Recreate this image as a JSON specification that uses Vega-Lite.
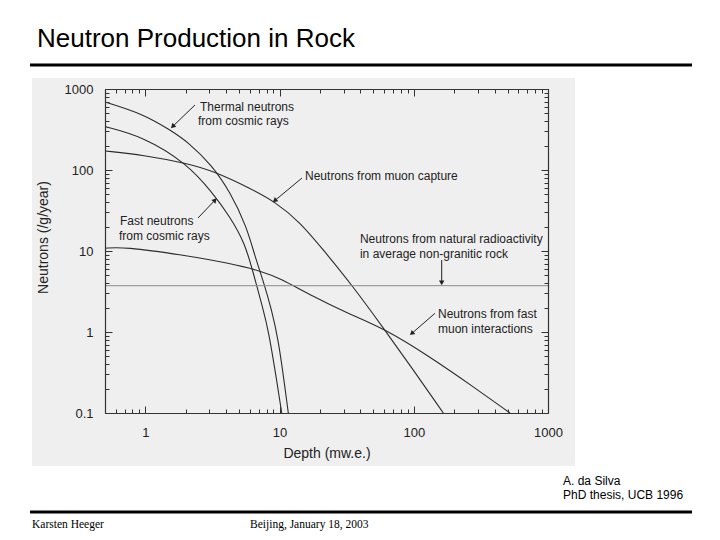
{
"$schema":"https://vega.github.io/schema/vega-lite/v6.json",
"width":443,"height":324,
"autosize":{"type":"none"},
"padding":{"left":105,"top":89,"right":172,"bottom":127},
"background":"#ffffff",
"config":{"view":{"stroke":null},"font":"Liberation Sans"},
"title":{"text":"Neutron Production in Rock","anchor":"start","frame":"group","dx":-68,"dy":24,"offset":15,"fontSize":26,"fontWeight":"normal","font":"Liberation Sans","color":"#000000","baseline":"alphabetic"},
"datasets":{"curves":[
{"series":"thermal","d":0.5,"v":691},{"series":"thermal","d":0.965,"v":491},{"series":"thermal","d":1.525,"v":312},{"series":"thermal","d":2.077,"v":222},{"series":"thermal","d":3.12,"v":115},{"series":"thermal","d":4.27,"v":54},{"series":"thermal","d":5.69,"v":19.95},{"series":"thermal","d":6.56,"v":8.5},{"series":"thermal","d":7.52,"v":4.39},{"series":"thermal","d":8.73,"v":1.87},{"series":"thermal","d":9.78,"v":0.796},{"series":"thermal","d":10.78,"v":0.255},{"series":"thermal","d":11.61,"v":0.1},
{"series":"fast","d":0.5,"v":343},{"series":"fast","d":0.965,"v":258},{"series":"fast","d":2.03,"v":121},{"series":"fast","d":3.12,"v":54},{"series":"fast","d":4.27,"v":26.5},{"series":"fast","d":5.52,"v":12.4},{"series":"fast","d":6.28,"v":5.82},{"series":"fast","d":7.56,"v":1.87},{"series":"fast","d":8.24,"v":1.06},{"series":"fast","d":9.51,"v":0.255},{"series":"fast","d":10.37,"v":0.1},
{"series":"muoncapture","d":0.5,"v":172},{"series":"muoncapture","d":0.965,"v":153},{"series":"muoncapture","d":2.03,"v":121},{"series":"muoncapture","d":3.3,"v":95.3},{"series":"muoncapture","d":6.02,"v":59.4},{"series":"muoncapture","d":9.24,"v":40.6},{"series":"muoncapture","d":14.19,"v":22.8},{"series":"muoncapture","d":21.2,"v":10.3},{"series":"muoncapture","d":35.4,"v":3.62},{"series":"muoncapture","d":59.3,"v":1.12},{"series":"muoncapture","d":99.2,"v":0.34},{"series":"muoncapture","d":166,"v":0.1},
{"series":"fastmuon","d":0.5,"v":10.8},{"series":"fastmuon","d":0.684,"v":11.3},{"series":"fastmuon","d":1.916,"v":8.93},{"series":"fastmuon","d":4.27,"v":7.05},{"series":"fastmuon","d":7.56,"v":5.55},{"series":"fastmuon","d":10.07,"v":4.6},{"series":"fastmuon","d":17.83,"v":2.73},{"series":"fastmuon","d":31.6,"v":1.72},{"series":"fastmuon","d":59.3,"v":1.12},{"series":"fastmuon","d":132,"v":0.495},{"series":"fastmuon","d":277.5,"v":0.211},{"series":"fastmuon","d":521,"v":0.1},
{"series":"natural","d":0.5,"v":3.73},{"series":"natural","d":1000,"v":3.73}
]},
"data":{"name":"curves"},
"resolve":{"axis":{"x":"independent","y":"independent"}},
"layer":[
{"data":{"values":[{}]},"mark":{"type":"rect","color":"#efefef","clip":false},"encoding":{"x":{"datum":0.1429,"type":"quantitative","scale":{"type":"log","domain":[0.5,1000],"nice":false},"axis":null},"x2":{"datum":1589},"y":{"datum":1367,"type":"quantitative","scale":{"type":"log","domain":[0.1,1000],"nice":false},"axis":null},"y2":{"datum":0.0222}}},
{"data":{"values":[{}]},"mark":{"type":"rule","color":"#000000","strokeWidth":3,"clip":false},"encoding":{"x":{"datum":0.138,"type":"quantitative","scale":{"type":"log","domain":[0.5,1000],"nice":false},"axis":null},"x2":{"datum":11830},"y":{"datum":1978,"type":"quantitative","scale":{"type":"log","domain":[0.1,1000],"nice":false},"axis":null}}},
{"data":{"values":[{}]},"mark":{"type":"rule","color":"#000000","strokeWidth":3,"clip":false},"encoding":{"x":{"datum":0.138,"type":"quantitative","scale":{"type":"log","domain":[0.5,1000],"nice":false},"axis":null},"x2":{"datum":11830},"y":{"datum":0.006,"type":"quantitative","scale":{"type":"log","domain":[0.1,1000],"nice":false},"axis":null}}},
{"transform":[{"filter":"datum.series != 'natural'"}],"mark":{"type":"line","color":"#2b2b2b","strokeWidth":1.1,"interpolate":"basis","clip":true},
 "encoding":{
  "x":{"field":"d","type":"quantitative","scale":{"type":"log","domain":[0.5,1000],"nice":false},
   "axis":{"orient":"bottom","values":[0.5,0.6,0.7,0.8,0.9,1,2,3,4,5,6,7,8,9,10,20,30,40,50,60,70,80,90,100,200,300,400,500,600,700,800,900,1000],
    "labelExpr":"(datum.value == 1 || datum.value == 10 || datum.value == 100 || datum.value == 1000) ? format(datum.value, '~g') : ''",
    "tickSize":{"condition":{"test":"datum.value == 1 || datum.value == 10 || datum.value == 100 || datum.value == 1000","value":-7},"value":-4},
    "tickColor":"#333333","tickWidth":1,"domainColor":"#333333","domainWidth":1.2,"labelFontSize":13,"labelColor":"#222222","labelPadding":20,"labelOverlap":false,"labelFlush":false,"grid":false,
    "title":"Depth (mw.e.)","titleFontSize":14,"titleFontWeight":"normal","titleColor":"#222222","titlePadding":4,"zindex":1}},
  "y":{"field":"v","type":"quantitative","scale":{"type":"log","domain":[0.1,1000],"nice":false},
   "axis":{"orient":"left","values":[0.1,0.2,0.3,0.4,0.5,0.6,0.7,0.8,0.9,1,2,3,4,5,6,7,8,9,10,20,30,40,50,60,70,80,90,100,200,300,400,500,600,700,800,900,1000],
    "labelExpr":"(datum.value == 0.1 || datum.value == 1 || datum.value == 10 || datum.value == 100 || datum.value == 1000) ? format(datum.value, '~g') : ''",
    "tickSize":{"condition":{"test":"datum.value == 0.1 || datum.value == 1 || datum.value == 10 || datum.value == 100 || datum.value == 1000","value":-7},"value":-4},
    "tickColor":"#333333","tickWidth":1,"domainColor":"#333333","domainWidth":1.2,"labelFontSize":13,"labelColor":"#222222","labelPadding":19,"labelOverlap":false,"labelFlush":false,"grid":false,
    "title":"Neutrons (/g/year)","titleFontSize":14,"titleFontWeight":"normal","titleColor":"#222222","titlePadding":14,"titleY":148,"zindex":1}},
  "detail":{"field":"series"}}},
{"transform":[{"filter":"datum.series == 'natural'"}],"mark":{"type":"line","color":"#8c8c8c","strokeWidth":1,"clip":true},
 "encoding":{
  "x":{"field":"d","type":"quantitative","scale":{"type":"log","domain":[0.5,1000],"nice":false},
   "axis":{"orient":"top","values":[0.5,0.6,0.7,0.8,0.9,1,2,3,4,5,6,7,8,9,10,20,30,40,50,60,70,80,90,100,200,300,400,500,600,700,800,900,1000],"labels":false,"title":null,
    "tickSize":{"condition":{"test":"datum.value == 1 || datum.value == 10 || datum.value == 100 || datum.value == 1000","value":-7},"value":-4},
    "tickColor":"#333333","tickWidth":1,"domainColor":"#333333","domainWidth":1.2,"grid":false,"zindex":1}},
  "y":{"field":"v","type":"quantitative","scale":{"type":"log","domain":[0.1,1000],"nice":false},
   "axis":{"orient":"right","values":[0.1,0.2,0.3,0.4,0.5,0.6,0.7,0.8,0.9,1,2,3,4,5,6,7,8,9,10,20,30,40,50,60,70,80,90,100,200,300,400,500,600,700,800,900,1000],"labels":false,"title":null,
    "tickSize":{"condition":{"test":"datum.value == 0.1 || datum.value == 1 || datum.value == 10 || datum.value == 100 || datum.value == 1000","value":-7},"value":-4},
    "tickColor":"#333333","tickWidth":1,"domainColor":"#333333","domainWidth":1.2,"grid":false,"zindex":1}}}},
{"data":{"values":[{}]},"mark":{"type":"rule","color":"#222222","strokeWidth":1,"clip":false},"encoding":{"x":{"datum":2.342,"type":"quantitative","scale":{"type":"log","domain":[0.5,1000],"nice":false},"axis":null},"y":{"datum":634.6,"type":"quantitative","scale":{"type":"log","domain":[0.1,1000],"nice":false},"axis":null},"x2":{"datum":1.612},"y2":{"datum":350}}},
{"data":{"values":[{}]},"mark":{"type":"point","shape":"triangle","filled":true,"size":30,"angle":226,"color":"#222222","opacity":1,"clip":false},"encoding":{"x":{"datum":1.612,"type":"quantitative","scale":{"type":"log","domain":[0.5,1000],"nice":false},"axis":null},"y":{"datum":350,"type":"quantitative","scale":{"type":"log","domain":[0.1,1000],"nice":false},"axis":null}}},
{"data":{"values":[{}]},"mark":{"type":"rule","color":"#222222","strokeWidth":1,"clip":false},"encoding":{"x":{"datum":2.466,"type":"quantitative","scale":{"type":"log","domain":[0.5,1000],"nice":false},"axis":null},"y":{"datum":25.55,"type":"quantitative","scale":{"type":"log","domain":[0.1,1000],"nice":false},"axis":null},"x2":{"datum":3.273},"y2":{"datum":41.8}}},
{"data":{"values":[{}]},"mark":{"type":"point","shape":"triangle","filled":true,"size":30,"angle":42.6,"color":"#222222","opacity":1,"clip":false},"encoding":{"x":{"datum":3.273,"type":"quantitative","scale":{"type":"log","domain":[0.5,1000],"nice":false},"axis":null},"y":{"datum":41.8,"type":"quantitative","scale":{"type":"log","domain":[0.1,1000],"nice":false},"axis":null}}},
{"data":{"values":[{}]},"mark":{"type":"rule","color":"#222222","strokeWidth":1,"clip":false},"encoding":{"x":{"datum":14.68,"type":"quantitative","scale":{"type":"log","domain":[0.5,1000],"nice":false},"axis":null},"y":{"datum":79.6,"type":"quantitative","scale":{"type":"log","domain":[0.1,1000],"nice":false},"axis":null},"x2":{"datum":9.29},"y2":{"datum":42.4}}},
{"data":{"values":[{}]},"mark":{"type":"point","shape":"triangle","filled":true,"size":30,"angle":230,"color":"#222222","opacity":1,"clip":false},"encoding":{"x":{"datum":9.29,"type":"quantitative","scale":{"type":"log","domain":[0.5,1000],"nice":false},"axis":null},"y":{"datum":42.4,"type":"quantitative","scale":{"type":"log","domain":[0.1,1000],"nice":false},"axis":null}}},
{"data":{"values":[{}]},"mark":{"type":"rule","color":"#222222","strokeWidth":1,"clip":false},"encoding":{"x":{"datum":161.4,"type":"quantitative","scale":{"type":"log","domain":[0.5,1000],"nice":false},"axis":null},"y":{"datum":7.74,"type":"quantitative","scale":{"type":"log","domain":[0.1,1000],"nice":false},"axis":null},"y2":{"datum":4.26}}},
{"data":{"values":[{}]},"mark":{"type":"point","shape":"triangle","filled":true,"size":30,"angle":180,"color":"#222222","opacity":1,"clip":false},"encoding":{"x":{"datum":161.4,"type":"quantitative","scale":{"type":"log","domain":[0.5,1000],"nice":false},"axis":null},"y":{"datum":4.14,"type":"quantitative","scale":{"type":"log","domain":[0.1,1000],"nice":false},"axis":null}}},
{"data":{"values":[{}]},"mark":{"type":"rule","color":"#222222","strokeWidth":1,"clip":false},"encoding":{"x":{"datum":143.8,"type":"quantitative","scale":{"type":"log","domain":[0.5,1000],"nice":false},"axis":null},"y":{"datum":1.702,"type":"quantitative","scale":{"type":"log","domain":[0.1,1000],"nice":false},"axis":null},"x2":{"datum":97.5},"y2":{"datum":0.972}}},
{"data":{"values":[{}]},"mark":{"type":"point","shape":"triangle","filled":true,"size":30,"angle":228.6,"color":"#222222","opacity":1,"clip":false},"encoding":{"x":{"datum":97.5,"type":"quantitative","scale":{"type":"log","domain":[0.5,1000],"nice":false},"axis":null},"y":{"datum":0.972,"type":"quantitative","scale":{"type":"log","domain":[0.1,1000],"nice":false},"axis":null}}},
{"data":{"values":[{}]},"mark":{"type":"text","text":"Thermal neutrons","align":"left","baseline":"middle","fontSize":12,"color":"#222222","clip":false},"encoding":{"x":{"datum":2.552,"type":"quantitative","scale":{"type":"log","domain":[0.5,1000],"nice":false},"axis":null},"y":{"datum":599.6,"type":"quantitative","scale":{"type":"log","domain":[0.1,1000],"nice":false},"axis":null}}},
{"data":{"values":[{}]},"mark":{"type":"text","text":"from cosmic rays","align":"left","baseline":"middle","fontSize":12,"color":"#222222","clip":false},"encoding":{"x":{"datum":2.466,"type":"quantitative","scale":{"type":"log","domain":[0.5,1000],"nice":false},"axis":null},"y":{"datum":406,"type":"quantitative","scale":{"type":"log","domain":[0.1,1000],"nice":false},"axis":null}}},
{"data":{"values":[{}]},"mark":{"type":"text","text":"Neutrons from muon capture","align":"left","baseline":"middle","fontSize":12,"color":"#222222","clip":false},"encoding":{"x":{"datum":15.47,"type":"quantitative","scale":{"type":"log","domain":[0.5,1000],"nice":false},"axis":null},"y":{"datum":85.0,"type":"quantitative","scale":{"type":"log","domain":[0.1,1000],"nice":false},"axis":null}}},
{"data":{"values":[{}]},"mark":{"type":"text","text":"Fast neutrons","align":"left","baseline":"middle","fontSize":12,"color":"#222222","clip":false},"encoding":{"x":{"datum":0.647,"type":"quantitative","scale":{"type":"log","domain":[0.5,1000],"nice":false},"axis":null},"y":{"datum":23.7,"type":"quantitative","scale":{"type":"log","domain":[0.1,1000],"nice":false},"axis":null}}},
{"data":{"values":[{}]},"mark":{"type":"text","text":"from cosmic rays","align":"left","baseline":"middle","fontSize":12,"color":"#222222","clip":false},"encoding":{"x":{"datum":0.636,"type":"quantitative","scale":{"type":"log","domain":[0.5,1000],"nice":false},"axis":null},"y":{"datum":15.45,"type":"quantitative","scale":{"type":"log","domain":[0.1,1000],"nice":false},"axis":null}}},
{"data":{"values":[{}]},"mark":{"type":"text","text":"Neutrons from natural radioactivity","align":"left","baseline":"middle","fontSize":12,"color":"#222222","clip":false},"encoding":{"x":{"datum":39.7,"type":"quantitative","scale":{"type":"log","domain":[0.5,1000],"nice":false},"axis":null},"y":{"datum":14.07,"type":"quantitative","scale":{"type":"log","domain":[0.1,1000],"nice":false},"axis":null}}},
{"data":{"values":[{}]},"mark":{"type":"text","text":"in average non-granitic rock","align":"left","baseline":"middle","fontSize":12,"color":"#222222","clip":false},"encoding":{"x":{"datum":39.7,"type":"quantitative","scale":{"type":"log","domain":[0.5,1000],"nice":false},"axis":null},"y":{"datum":9.18,"type":"quantitative","scale":{"type":"log","domain":[0.1,1000],"nice":false},"axis":null}}},
{"data":{"values":[{}]},"mark":{"type":"text","text":"Neutrons from fast","align":"left","baseline":"middle","fontSize":12,"color":"#222222","clip":false},"encoding":{"x":{"datum":151.5,"type":"quantitative","scale":{"type":"log","domain":[0.5,1000],"nice":false},"axis":null},"y":{"datum":1.668,"type":"quantitative","scale":{"type":"log","domain":[0.1,1000],"nice":false},"axis":null}}},
{"data":{"values":[{}]},"mark":{"type":"text","text":"muon interactions","align":"left","baseline":"middle","fontSize":12,"color":"#222222","clip":false},"encoding":{"x":{"datum":151.5,"type":"quantitative","scale":{"type":"log","domain":[0.5,1000],"nice":false},"axis":null},"y":{"datum":1.089,"type":"quantitative","scale":{"type":"log","domain":[0.1,1000],"nice":false},"axis":null}}},
{"data":{"values":[{}]},"mark":{"type":"text","text":"A. da Silva","align":"left","baseline":"middle","fontSize":12,"color":"#000000","clip":false},"encoding":{"x":{"datum":1294,"type":"quantitative","scale":{"type":"log","domain":[0.5,1000],"nice":false},"axis":null},"y":{"datum":0.01447,"type":"quantitative","scale":{"type":"log","domain":[0.1,1000],"nice":false},"axis":null}}},
{"data":{"values":[{}]},"mark":{"type":"text","text":"PhD thesis, UCB 1996","align":"left","baseline":"middle","fontSize":12,"color":"#000000","clip":false},"encoding":{"x":{"datum":1294,"type":"quantitative","scale":{"type":"log","domain":[0.5,1000],"nice":false},"axis":null},"y":{"datum":0.00972,"type":"quantitative","scale":{"type":"log","domain":[0.1,1000],"nice":false},"axis":null}}},
{"data":{"values":[{}]},"mark":{"type":"text","text":"Karsten Heeger","align":"left","baseline":"middle","fontSize":11.5,"font":"Liberation Serif","color":"#000000","clip":false},"encoding":{"x":{"datum":0.1429,"type":"quantitative","scale":{"type":"log","domain":[0.5,1000],"nice":false},"axis":null},"y":{"datum":0.00414,"type":"quantitative","scale":{"type":"log","domain":[0.1,1000],"nice":false},"axis":null}}},
{"data":{"values":[{}]},"mark":{"type":"text","text":"Beijing, January 18, 2003","align":"left","baseline":"middle","fontSize":11.5,"font":"Liberation Serif","color":"#000000","clip":false},"encoding":{"x":{"datum":6.02,"type":"quantitative","scale":{"type":"log","domain":[0.5,1000],"nice":false},"axis":null},"y":{"datum":0.00414,"type":"quantitative","scale":{"type":"log","domain":[0.1,1000],"nice":false},"axis":null}}}
]
}
